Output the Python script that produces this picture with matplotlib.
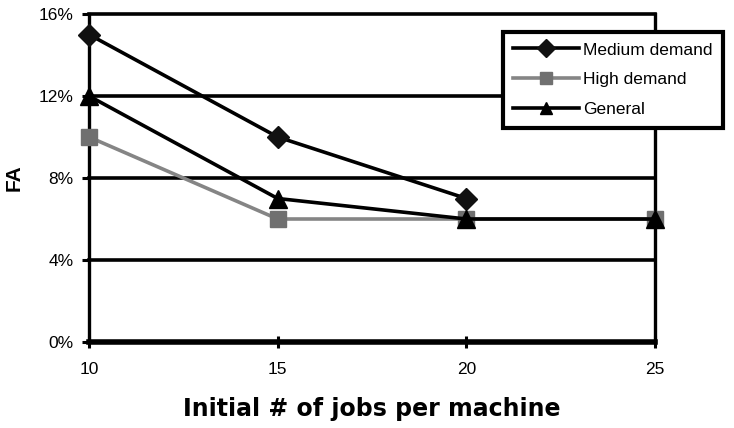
import matplotlib
matplotlib.use("Agg")
import matplotlib.pyplot as plt
from matplotlib.ticker import FuncFormatter

plt.rcParams['font.family'] = ['Liberation Sans', 'DejaVu Sans']

jobs = [10, 15, 20, 25]
medium = [15, 10, 7]
high = [10, 6, 6, 6]
general = [12, 7, 6, 6]

fig = plt.figure(figsize=(7.34, 4.28), dpi=100)
ax = fig.add_axes([89 / 734, 1 - 342 / 428, (655 - 89) / 734, (342 - 14) / 428])

for y in [4, 8, 12, 16]:
    ax.axhline(y, color='black', lw=2.6, zorder=1, clip_on=False)

ax.plot(jobs[:len(high)], high, color='#858585', lw=2.6, marker='s', ms=12,
        mfc='#707070', mec='#707070', label='High demand', zorder=3, clip_on=False)
ax.plot(jobs[:len(medium)], medium, color='black', lw=2.6, marker='D', ms=11,
        mfc='#111111', mec='#111111', label='Medium demand', zorder=4, clip_on=False)
ax.plot(jobs[:len(general)], general, color='black', lw=2.6, marker='^', ms=13,
        mfc='black', mec='black', label='General', zorder=5, clip_on=False)

ax.set_xlim(10, 25)
ax.set_ylim(0, 16)
ax.set_xticks(jobs)
ax.set_yticks([0, 4, 8, 12, 16])
ax.yaxis.set_major_formatter(FuncFormatter(lambda v, p: f'{v:.0f}%'))
ax.tick_params(axis='both', labelsize=12.5, length=5, width=2.2, color='black')
ax.tick_params(axis='x', direction='inout', length=9, pad=10)
ax.tick_params(axis='y', direction='out', pad=6)

ax.spines['top'].set_visible(False)
ax.spines['left'].set_linewidth(2.4)
ax.spines['right'].set_linewidth(2.4)
ax.spines['bottom'].set_linewidth(4)
for s in ax.spines.values():
    s.set_zorder(2)

ax.set_xlabel('Initial # of jobs per machine', fontsize=17, fontweight='bold',
              labelpad=14, family=['DejaVu Sans'])
ax.set_ylabel('FA', fontsize=15, fontweight='bold', labelpad=11)

handles, labels = ax.get_legend_handles_labels()
order = [1, 0, 2]
leg = fig.legend([handles[i] for i in order], [labels[i] for i in order],
                 loc='upper left', bbox_to_anchor=(503 / 734, 1 - 32 / 428),
                 fontsize=12.5, frameon=True, fancybox=False, framealpha=1,
                 edgecolor='black', handlelength=3.8, handletextpad=0.2,
                 borderpad=0.6, labelspacing=0.85, borderaxespad=0)
leg.get_frame().set_linewidth(3)
for h in leg.legend_handles:
    h.set_markersize(9)

fig.savefig('out.png', dpi=100)
